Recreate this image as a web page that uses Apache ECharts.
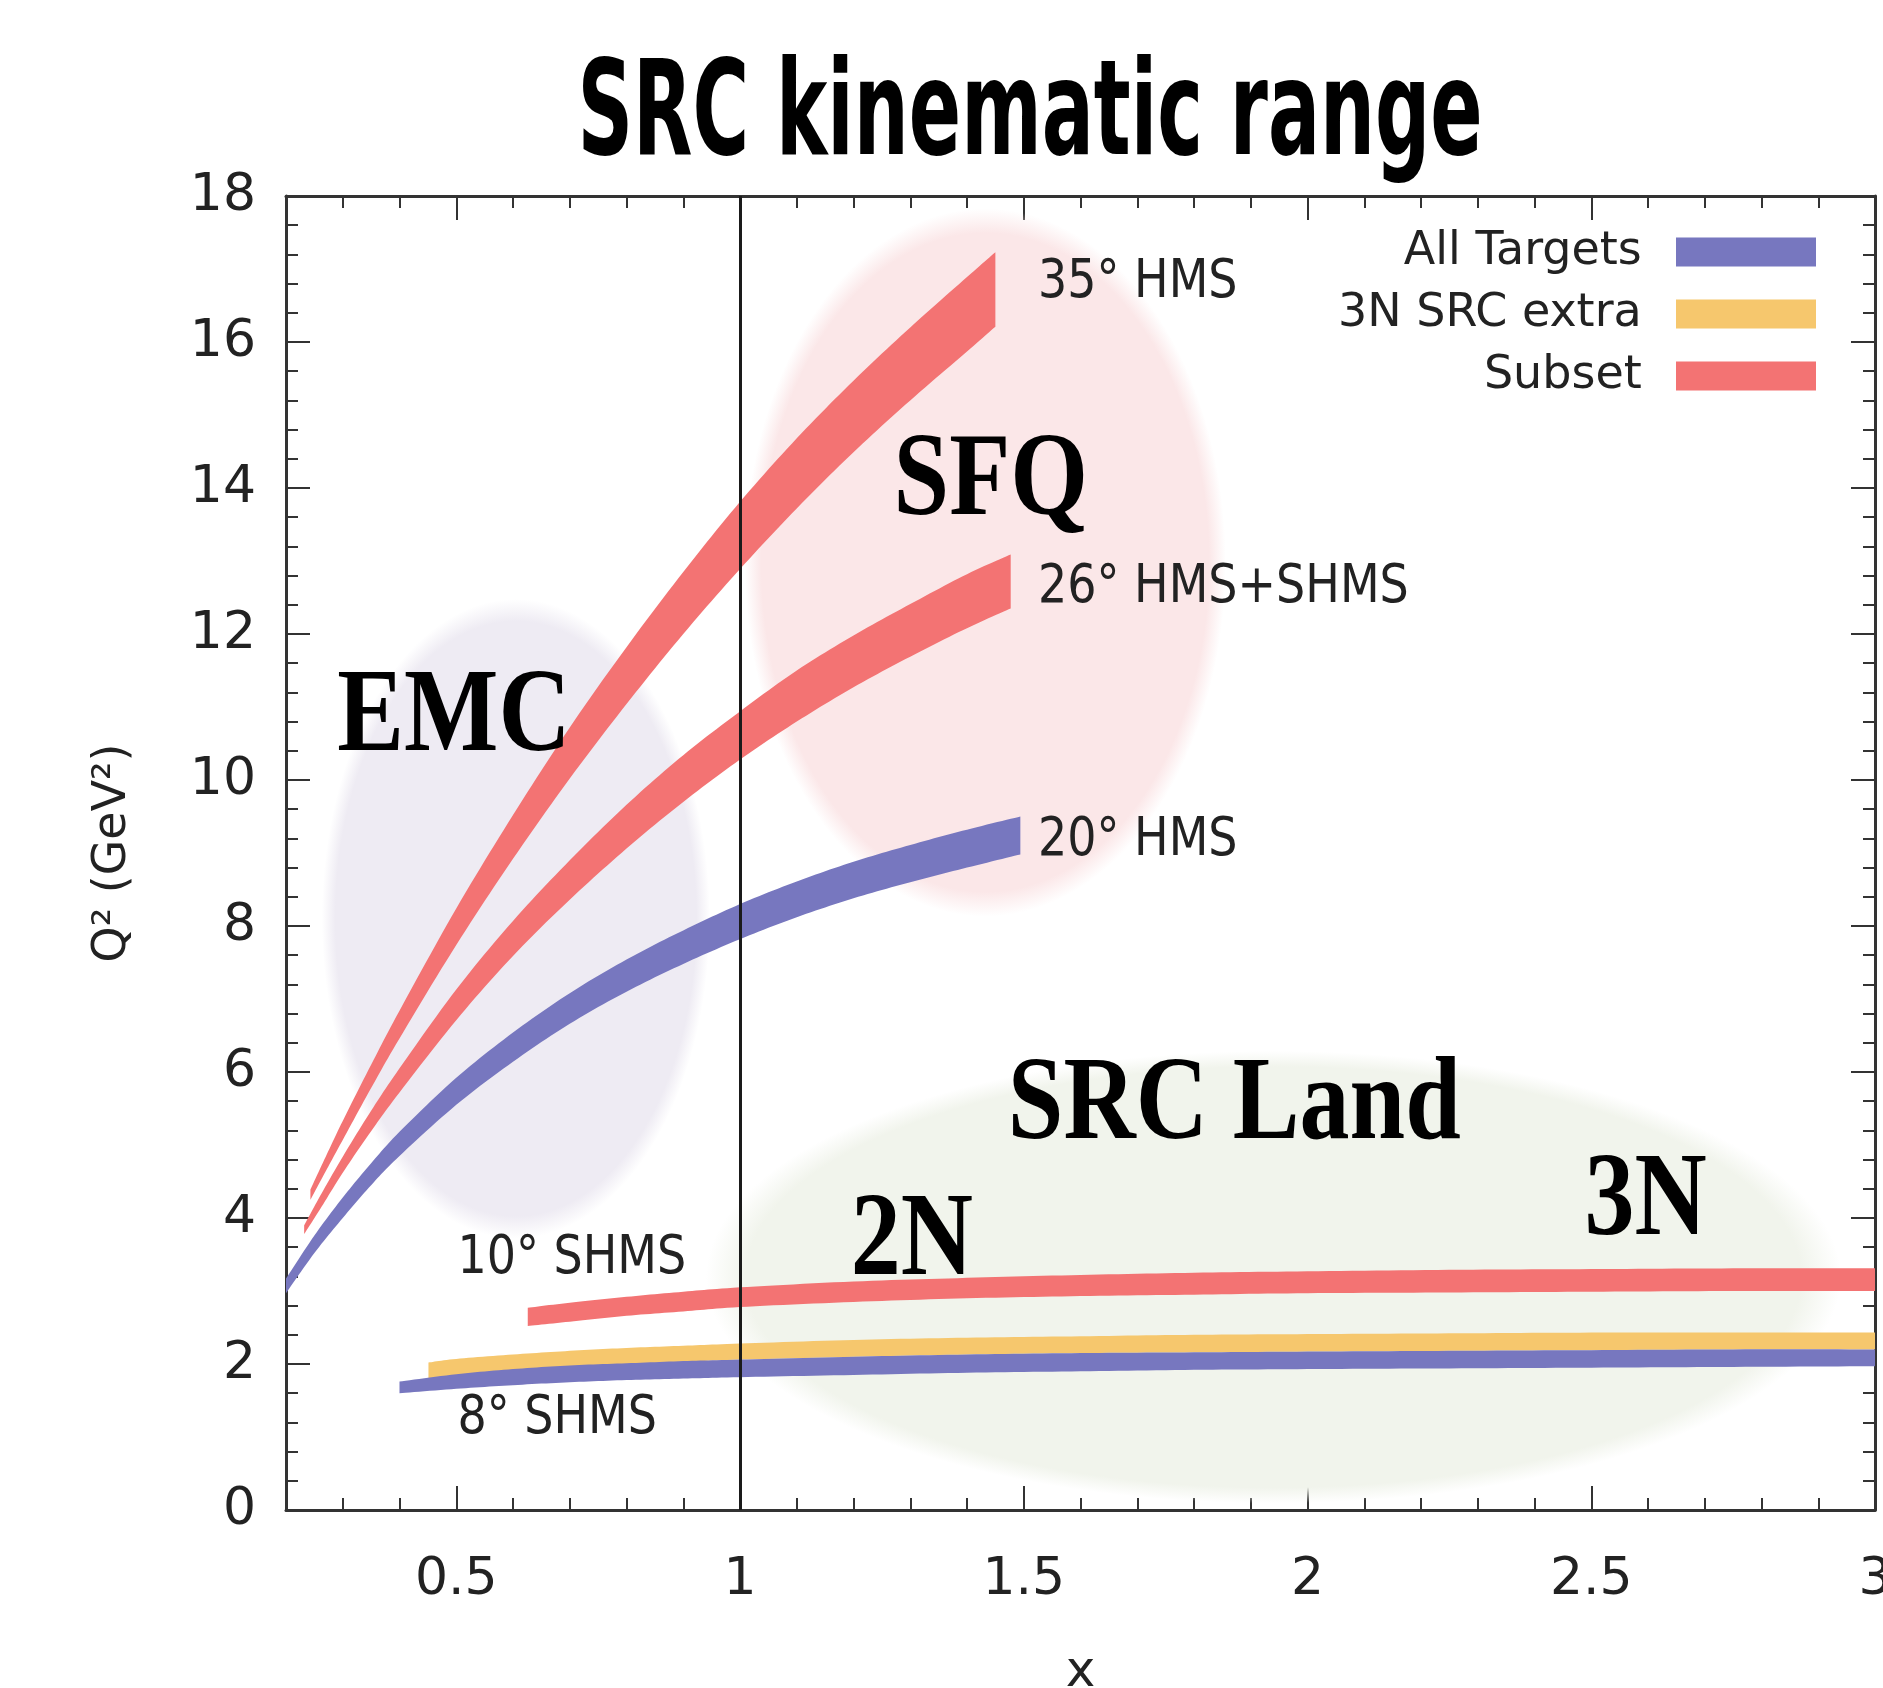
<!DOCTYPE html>
<html>
<head>
<meta charset="utf-8">
<title>SRC kinematic range</title>
<script src="https://cdn.jsdelivr.net/npm/echarts@6/dist/echarts.min.js"></script>
<style>
  html, body { margin: 0; padding: 0; background: #fff; }
  #chart { width: 1883px; height: 1688px; }
</style>
</head>
<body>
<div id="chart"></div>
<script>
// x ticks with labels
const xMajor = [0.5, 1, 1.5, 2, 2.5, 3]

// 35 deg HMS band (Subset)
const b35X = [0.243, 0.27, 0.3, 0.35, 0.4, 0.5, 0.6, 0.7, 0.8, 0.9, 1.0, 1.1, 1.2, 1.3, 1.4, 1.45]
const b35Lo = [4.25, 4.64, 5.07, 5.78, 6.46, 7.74, 8.92, 10.02, 11.04, 12.0, 12.89, 13.72, 14.49, 15.2, 15.87, 16.21]
const b35Hi = [4.39, 4.84, 5.33, 6.1, 6.84, 8.24, 9.52, 10.72, 11.82, 12.85, 13.81, 14.68, 15.47, 16.2, 16.89, 17.23]

// 26 deg HMS+SHMS band (Subset)
const b26X = [0.232, 0.26, 0.3, 0.35, 0.4, 0.5, 0.6, 0.7, 0.8, 0.9, 1.0, 1.1, 1.2, 1.3, 1.4, 1.477]
const b26Lo = [3.78, 4.12, 4.62, 5.19, 5.72, 6.71, 7.59, 8.36, 9.06, 9.7, 10.28, 10.8, 11.27, 11.69, 12.08, 12.35]
const b26Hi = [3.9, 4.3, 4.84, 5.47, 6.05, 7.13, 8.07, 8.9, 9.66, 10.34, 10.94, 11.5, 11.98, 12.41, 12.82, 13.09]

// 20 deg HMS band (All Targets)
const b20X = [0.2, 0.25, 0.3, 0.35, 0.4, 0.5, 0.6, 0.7, 0.8, 0.9, 1.0, 1.1, 1.2, 1.3, 1.4, 1.494]
const b20Lo = [2.97, 3.52, 4.0, 4.45, 4.85, 5.55, 6.14, 6.66, 7.1, 7.48, 7.82, 8.12, 8.38, 8.6, 8.8, 8.98]
const b20Hi = [3.17, 3.76, 4.28, 4.75, 5.18, 5.92, 6.54, 7.08, 7.54, 7.94, 8.3, 8.61, 8.88, 9.11, 9.32, 9.5]

// 10 deg SHMS band (Subset)
const b10X = [0.626, 0.7, 0.8, 0.9, 1.0, 1.2, 1.4, 1.6, 1.8, 2.0, 2.25, 2.5, 2.75, 3.0]
const b10Lo = [2.52, 2.58, 2.66, 2.72, 2.78, 2.85, 2.9, 2.93, 2.95, 2.97, 2.98, 2.99, 3.0, 3.0]
const b10Hi = [2.77, 2.84, 2.92, 2.99, 3.05, 3.13, 3.18, 3.22, 3.25, 3.27, 3.29, 3.3, 3.31, 3.31]

// 3N SRC extra band
const b3nX = [0.451, 0.5, 0.6, 0.7, 0.8, 0.9, 1.0, 1.2, 1.4, 1.6, 1.8, 2.0, 2.25, 2.5, 2.75, 3.0]
const b3nLo = [1.8, 1.84, 1.9, 1.95, 1.99, 2.03, 2.06, 2.1, 2.13, 2.15, 2.16, 2.17, 2.18, 2.19, 2.2, 2.2]
const b3nHi = [2.02, 2.07, 2.13, 2.18, 2.22, 2.25, 2.28, 2.33, 2.36, 2.38, 2.4, 2.41, 2.42, 2.43, 2.43, 2.43]

// 8 deg SHMS band (All Targets)
const b8X = [0.4, 0.5, 0.6, 0.7, 0.8, 0.9, 1.0, 1.2, 1.4, 1.6, 1.8, 2.0, 2.25, 2.5, 2.75, 3.0]
const b8Lo = [1.6, 1.66, 1.71, 1.75, 1.78, 1.8, 1.82, 1.85, 1.88, 1.9, 1.92, 1.93, 1.94, 1.95, 1.96, 1.97]
const b8Hi = [1.76, 1.86, 1.93, 1.98, 2.01, 2.04, 2.06, 2.1, 2.13, 2.15, 2.16, 2.17, 2.18, 2.19, 2.2, 2.2]

// shaded regions (centre and half axes, in x / Q2 units)
const regionCx = [0.605, 1.432, 1.94]
const regionCy = [8.1, 12.98, 3.19]
const regionRx = [0.342, 0.424, 1.0]
const regionRy = [4.38, 4.85, 3.1]

// text on the plot
const angleNames = ['35° HMS', '26° HMS+SHMS', '20° HMS', '10° SHMS', '8° SHMS']
const angleX = [1.525, 1.525, 1.525, 0.502, 0.502]
const angleY = [16.8, 12.63, 9.16, 3.43, 1.24]

const regionNames = ['EMC', 'SFQ', 'SRC Land', '2N', '3N']
const regionX = [0.496, 1.442, 1.871, 1.303, 2.596]
const regionY = [10.83, 14.06, 5.51, 3.65, 4.2]

const RED = '#f37373'
const BLUE = '#7777bf'
const YELLOW = '#f6c76d'
const regionColors = [[238, 235, 243], [251, 231, 232], [241, 244, 236]]
const FONT = '"DejaVu Sans", sans-serif'

const bands = [
  { name: 'Subset', x: b35X, lo: b35Lo, hi: b35Hi, color: RED },
  { name: 'Subset', x: b26X, lo: b26Lo, hi: b26Hi, color: RED },
  { name: 'All Targets', x: b20X, lo: b20Lo, hi: b20Hi, color: BLUE },
  { name: 'Subset', x: b10X, lo: b10Lo, hi: b10Hi, color: RED },
  { name: '3N SRC extra', x: b3nX, lo: b3nLo, hi: b3nHi, color: YELLOW },
  { name: 'All Targets', x: b8X, lo: b8Lo, hi: b8Hi, color: BLUE }
]

// smooth pixel-space curve through projected points (Catmull-Rom as cubic Bezier)
function smoothCurve (pts, steps) {
  const out = [pts[0]]
  for (let i = 0; i < pts.length - 1; i++) {
    const p0 = pts[Math.max(i - 1, 0)]
    const p1 = pts[i]
    const p2 = pts[i + 1]
    const p3 = pts[Math.min(i + 2, pts.length - 1)]
    const c1 = [p1[0] + (p2[0] - p0[0]) / 6, p1[1] + (p2[1] - p0[1]) / 6]
    const c2 = [p2[0] - (p3[0] - p1[0]) / 6, p2[1] - (p3[1] - p1[1]) / 6]
    for (let k = 1; k <= steps; k++) {
      const t = k / steps
      const u = 1 - t
      out.push([
        u * u * u * p1[0] + 3 * u * u * t * c1[0] + 3 * u * t * t * c2[0] + t * t * t * p2[0],
        u * u * u * p1[1] + 3 * u * u * t * c1[1] + 3 * u * t * t * c2[1] + t * t * t * p2[1]
      ])
    }
  }
  return out
}

// text placed at data coordinates, stretched a little vertically like the original
function textSeries (name, names, xs, ys, font, fill, align, stretch) {
  return {
    name: name,
    type: 'custom',
    z: 6,
    silent: true,
    data: names.map((n, i) => [xs[i], ys[i], i]),
    encode: { x: 0, y: 1 },
    renderItem: function (params, api) {
      const c = api.coord([api.value(0), api.value(1)])
      return {
        type: 'text',
        x: c[0],
        y: c[1],
        scaleY: stretch,
        style: {
          text: names[api.value(2)],
          font: font,
          fill: fill,
          align: align,
          verticalAlign: 'middle'
        }
      }
    }
  }
}

const series = []

series.push({
  name: 'regions',
  type: 'custom',
  z: 1,
  silent: true,
  data: regionCx.map((cx, i) => [cx, regionCy[i], regionRx[i], regionRy[i], i]),
  encode: { x: 0, y: 1 },
  renderItem: function (params, api) {
    const c = api.coord([api.value(0), api.value(1)])
    const s = api.size([api.value(2), api.value(3)])
    const rgb = regionColors[api.value(4)].join(',')
    return {
      type: 'circle',
      x: c[0],
      y: c[1],
      scaleX: s[0],
      scaleY: s[1],
      shape: { cx: 0, cy: 0, r: 1 },
      style: {
        fill: {
          type: 'radial', x: 0.5, y: 0.5, r: 0.5, global: false,
          colorStops: [
            { offset: 0, color: 'rgba(' + rgb + ',1)' },
            { offset: 0.93, color: 'rgba(' + rgb + ',1)' },
            { offset: 1, color: 'rgba(' + rgb + ',0)' }
          ]
        }
      }
    }
  }
})

bands.forEach((b) => {
  series.push({
    name: b.name,
    type: 'custom',
    z: 2,
    silent: true,
    clip: true,
    itemStyle: { color: b.color },
    data: [[b.x[0], b.lo[0]]],
    renderItem: function (params, api) {
      const up = b.x.map((v, j) => api.coord([v, b.hi[j]]))
      const lo = b.x.map((v, j) => api.coord([v, b.lo[j]])).reverse()
      const pts = smoothCurve(up, 12).concat(smoothCurve(lo, 12))
      return {
        type: 'polygon',
        shape: { points: pts },
        style: { fill: b.color }
      }
    }
  })
})

// x = 1 line
series.push({
  name: 'x1',
  type: 'line',
  z: 5,
  data: [],
  markLine: {
    silent: true,
    symbol: 'none',
    label: { show: false },
    lineStyle: { color: '#1a1a1a', width: 3, type: 'solid' },
    data: [{ xAxis: 1 }]
  }
})

series.push(textSeries('angleLabels', angleNames, angleX, angleY, '46px "DejaVu Sans"', '#222', 'left', 1.15))
series.push(textSeries('regionLabels', regionNames, regionX, regionY, 'bold 100px "Liberation Serif"', '#000', 'center', 1.18))

const axisLine = { show: true, lineStyle: { color: '#333', width: 3 } }
const tickStyle = { color: '#333', width: 2 }

const option = {
  animation: false,
  backgroundColor: '#fff',
  textStyle: { fontFamily: FONT },
  graphic: [{
    type: 'text',
    x: 1030,
    y: 120,
    scaleX: 0.585,
    style: {
      text: 'SRC kinematic range',
      font: 'bold 132px "DejaVu Sans"',
      fill: '#000',
      align: 'center',
      verticalAlign: 'middle'
    }
  }],
  legend: {
    orient: 'vertical',
    right: 67,
    top: 229,
    padding: 0,
    align: 'right',
    icon: 'rect',
    itemWidth: 140,
    itemHeight: 29,
    itemGap: 16,
    selectedMode: false,
    formatter: n => n + '\u00a0\u00a0',
    textStyle: { fontSize: 46, color: '#222', fontFamily: FONT },
    data: [
      { name: 'All Targets', itemStyle: { color: BLUE } },
      { name: '3N SRC extra', itemStyle: { color: YELLOW } },
      { name: 'Subset', itemStyle: { color: RED } }
    ]
  },
  grid: { left: 286, right: 8, top: 196, bottom: 178, containLabel: false, outerBoundsMode: 'none' },
  xAxis: [
    {
      type: 'value', min: 0.2, max: 3, position: 'bottom',
      name: 'x', nameLocation: 'middle', nameGap: 138,
      nameTextStyle: { fontSize: 50, color: '#222', fontFamily: FONT },
      axisLine: axisLine,
      axisTick: { show: true, inside: true, length: 24, customValues: xMajor, lineStyle: tickStyle },
      axisLabel: { customValues: xMajor, fontSize: 52, margin: 44, color: '#222', fontFamily: FONT, formatter: v => String(v) },
      splitLine: { show: false }
    },
    {
      type: 'value', min: 0.2, max: 3, interval: 0.1, position: 'bottom',
      axisLine: { show: false },
      axisTick: { show: true, inside: true, length: 12, lineStyle: tickStyle },
      axisLabel: { show: false },
      splitLine: { show: false }
    },
    {
      type: 'value', min: 0.2, max: 3, position: 'top',
      axisLine: axisLine,
      axisTick: { show: true, inside: true, length: 24, customValues: xMajor, lineStyle: tickStyle },
      axisLabel: { show: false },
      splitLine: { show: false }
    },
    {
      type: 'value', min: 0.2, max: 3, interval: 0.1, position: 'top',
      axisLine: { show: false },
      axisTick: { show: true, inside: true, length: 12, lineStyle: tickStyle },
      axisLabel: { show: false },
      splitLine: { show: false }
    }
  ],
  yAxis: [
    {
      type: 'value', min: 0, max: 18, interval: 2, position: 'left',
      name: 'Q² (GeV²)', nameLocation: 'middle', nameGap: 150,
      nameTextStyle: { fontSize: 46, color: '#222', fontFamily: FONT },
      axisLine: axisLine,
      axisTick: { show: true, inside: true, length: 24, lineStyle: tickStyle },
      minorTick: { show: true, splitNumber: 5, length: 12, lineStyle: tickStyle },
      axisLabel: { fontSize: 52, margin: 30, color: '#222', fontFamily: FONT },
      splitLine: { show: false }
    },
    {
      type: 'value', min: 0, max: 18, interval: 2, position: 'right',
      axisLine: axisLine,
      axisTick: { show: true, inside: true, length: 24, lineStyle: tickStyle },
      minorTick: { show: true, splitNumber: 5, length: 12, lineStyle: tickStyle },
      axisLabel: { show: false },
      splitLine: { show: false }
    }
  ],
  series: series
}

const chart = echarts.init(document.getElementById('chart'))
chart.setOption(option)
</script>
</body>
</html>
